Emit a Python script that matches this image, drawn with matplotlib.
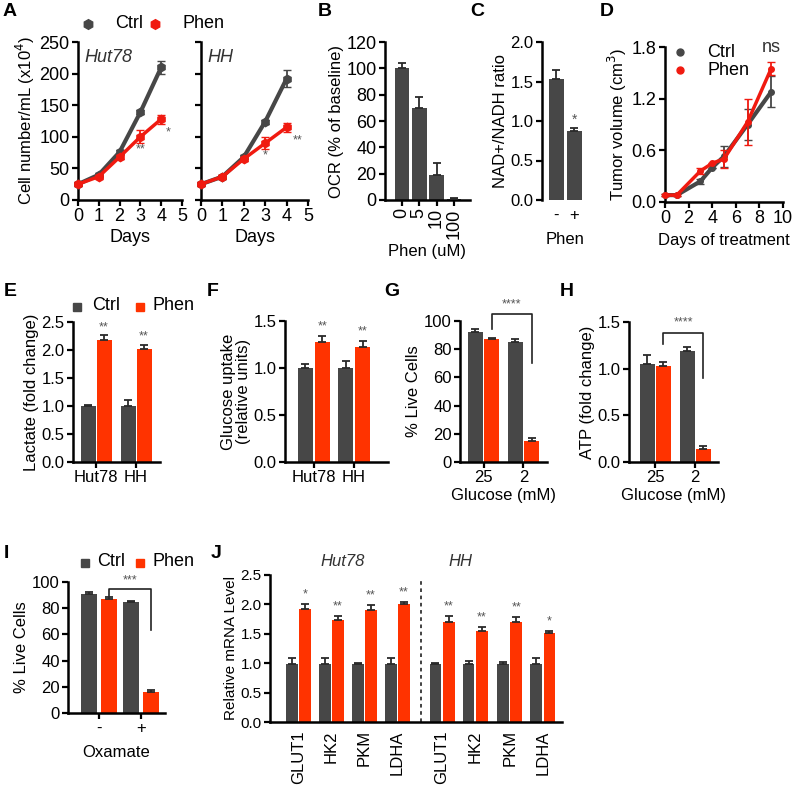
import matplotlib
matplotlib.use('Agg')
import matplotlib.pyplot as plt
import numpy as np

plt.rcParams['font.family'] = ['Liberation Sans', 'DejaVu Sans']

GRAY = '#474747'
RED = '#ff3300'
LRED = '#f01a10'
ERRC = '#2a2a2a'
STARC = '#555555'

# ---------------- data ----------------
# A
days = [0, 1, 2, 3, 4]
hut_ctrl = [25, 40, 76, 139, 210]
hut_ctrl_err = [2, 2, 3, 3, 10]
hut_phen = [25, 37, 68, 100, 128]
hut_phen_err = [2, 2, 3, 10, 7]
hh_ctrl = [25, 37, 68, 124, 192]
hh_ctrl_err = [2, 2, 3, 3, 13]
hh_phen = [25, 37, 65, 90, 115]
hh_phen_err = [2, 2, 3, 9, 7]
# B
b_labels = ['0', '5', '10', '100']
b_vals = [100, 70, 19, 1]
b_err = [4, 8, 9, 0.5]
# C
c_labels = ['-', '+']
c_vals = [1.53, 0.87]
c_err = [0.12, 0.04]
# D
d_days = [0, 1, 3, 4, 5, 7, 9]
d_ctrl = [0.08, 0.08, 0.24, 0.40, 0.53, 0.90, 1.28]
d_ctrl_err = [0.01, 0.01, 0.03, 0.0, 0.12, 0.18, 0.18]
d_phen = [0.08, 0.08, 0.36, 0.45, 0.50, 0.93, 1.55]
d_phen_err = [0.01, 0.01, 0.03, 0.0, 0.10, 0.27, 0.08]
# E
cell_lines = ['Hut78', 'HH']
e_ctrl = [1.0, 1.0]
e_ctrl_err = [0.01, 0.1]
e_phen = [2.17, 2.02]
e_phen_err = [0.09, 0.07]
# F
f_ctrl = [1.0, 1.0]
f_ctrl_err = [0.04, 0.07]
f_phen = [1.28, 1.22]
f_phen_err = [0.06, 0.07]
# G
glucose = ['25', '2']
g_ctrl = [92, 85]
g_ctrl_err = [2, 2]
g_phen = [87, 15]
g_phen_err = [0.6, 2]
# H
h_ctrl = [1.05, 1.19]
h_ctrl_err = [0.10, 0.04]
h_phen = [1.03, 0.14]
h_phen_err = [0.04, 0.03]
# I
oxamate = ['-', '+']
i_ctrl = [91, 85]
i_ctrl_err = [1, 0.5]
i_phen = [87, 16]
i_phen_err = [1.5, 1.5]
# J
genes = ['GLUT1', 'HK2', 'PKM', 'LDHA', 'GLUT1', 'HK2', 'PKM', 'LDHA']
j_ctrl = [0.98, 0.98, 0.98, 0.98, 0.98, 0.98, 0.98, 0.98]
j_ctrl_err = [0.10, 0.10, 0.03, 0.10, 0.03, 0.06, 0.04, 0.10]
j_phen = [1.93, 1.74, 1.91, 2.00, 1.70, 1.55, 1.70, 1.51]
j_phen_err = [0.07, 0.06, 0.08, 0.04, 0.10, 0.06, 0.08, 0.03]
j_stars = ['*', '**', '**', '**', '**', '**', '**', '*']

# ---------------- figure ----------------
W, H = 795, 786
fig = plt.figure(figsize=(W / 100, H / 100), dpi=100)


def add_ax(l, t, r, b):
    return fig.add_axes([l / W, 1 - b / H, (r - l) / W, (b - t) / H])


def style(ax, fs):
    for s in ['top', 'right']:
        ax.spines[s].set_visible(False)
    for s in ['left', 'bottom']:
        ax.spines[s].set_linewidth(1.8)
    ax.tick_params(width=1.6, length=4.5, labelsize=fs, pad=1.5)
    ax.patch.set_alpha(0)


def ftext(x, y, s, **kw):
    fig.text(x / W, 1 - y / H, s, **kw)


def letter(x, y, s):
    ftext(x, y, s, fontsize=14, fontweight='bold', ha='center', va='center')


def grouped(ax, pos, ctrl, cerr, phen, perr, off, width):
    pos = np.asarray(pos, dtype=float)
    ax.bar(pos - off, ctrl, width, color=GRAY, zorder=2)
    ax.bar(pos + off, phen, width, color=RED, zorder=2)
    ax.errorbar(pos - off, ctrl, yerr=[np.zeros(len(cerr)), cerr], fmt='none',
                ecolor=ERRC, elinewidth=1.3, capsize=3, capthick=1.3, zorder=3)
    ax.errorbar(pos + off, phen, yerr=[np.zeros(len(perr)), perr], fmt='none',
                ecolor=ERRC, elinewidth=1.3, capsize=3, capthick=1.3, zorder=3)


def bracket(ax, x1, x2, ytop, yl, yr, txt, ty):
    ax.plot([x1, x1, x2, x2], [yl, ytop, ytop, yr], color='#222222', lw=1.2,
            clip_on=False, zorder=4)
    ax.text((x1 + x2) / 2, ty, txt, ha='center', va='center', fontsize=9,
            color=STARC, clip_on=False)


# ---- A ----
for (l, r, c, ce, p, pe, name, stars) in [
        (78, 182, hut_ctrl, hut_ctrl_err, hut_phen, hut_phen_err, 'Hut78',
         [(3, 80, '**'), (4.35, 107, '*')]),
        (201, 308, hh_ctrl, hh_ctrl_err, hh_phen, hh_phen_err, 'HH',
         [(3, 70, '*'), (4.5, 95, '**')])]:
    ax = add_ax(l, 42, r, 200)
    style(ax, 13)
    ax.errorbar(days, c, yerr=ce, color=GRAY, lw=3, marker='h', ms=6,
                capsize=3, elinewidth=1.3, clip_on=False, zorder=3)
    ax.errorbar(days, p, yerr=pe, color=LRED, lw=2.5, marker='h', ms=6,
                capsize=3, elinewidth=1.3, clip_on=False, zorder=4)
    ax.set_xlim(0, 5)
    ax.set_ylim(0, 250)
    ax.set_xticks([0, 1, 2, 3, 4, 5])
    ax.set_yticks([0, 50, 100, 150, 200, 250])
    if l > 100:
        ax.set_yticklabels([])
    ax.set_xlabel('Days', fontsize=13, labelpad=3)
    ax.text(0.3, 225, name, fontsize=13, style='italic', color='#333333',
            va='center')
    for (sx, sy, st) in stars:
        ax.text(sx, sy, st, ha='center', va='center', fontsize=9, color=STARC)
    if l < 100:
        ax.set_ylabel('Cell number/mL (x10$^4$)', fontsize=12, labelpad=2)

# A legend
ax_leg = fig.add_axes([0, 0, 1, 1])
ax_leg.set_xlim(0, W)
ax_leg.set_ylim(H, 0)
ax_leg.axis('off')
ax_leg.plot([88], [24], marker='h', ms=7, color=GRAY, ls='none')
ax_leg.plot([155], [24], marker='h', ms=7, color=LRED, ls='none')
ftext(115, 24, 'Ctrl', fontsize=13, va='center')
ftext(182, 24, 'Phen', fontsize=13, va='center')
letter(10, 12, 'A')

# ---- B ----
ax = add_ax(385, 42, 470, 200)
style(ax, 13)
bx = np.arange(len(b_vals))
ax.bar(bx, b_vals, 0.85, color=GRAY, zorder=2)
ax.errorbar(bx, b_vals, yerr=[np.zeros(len(b_err)), b_err], fmt='none',
            ecolor=ERRC, elinewidth=1.3, capsize=3, capthick=1.3, zorder=3)
ax.set_xlim(-0.98, 3.93)
ax.set_ylim(0, 120)
ax.set_yticks(range(0, 121, 20))
ax.set_xticks(bx)
ax.set_xticklabels(b_labels, rotation=90, va='top', ha='center')
ax.set_ylabel('OCR (% of baseline)', fontsize=12, labelpad=2)
ax.set_xlabel('Phen (uM)', fontsize=12, labelpad=4)
letter(325, 12, 'B')

# ---- C ----
ax = add_ax(542, 42, 588, 200)
style(ax, 12)
cx = np.arange(len(c_vals))
ax.bar(cx, c_vals, 0.83, color=GRAY, zorder=2)
ax.errorbar(cx, c_vals, yerr=[np.zeros(len(c_err)), c_err], fmt='none',
            ecolor=ERRC, elinewidth=1.3, capsize=3, capthick=1.3, zorder=3)
ax.set_xlim(-0.78, 1.75)
ax.set_ylim(0, 2.0)
ax.set_yticks([0.0, 0.5, 1.0, 1.5, 2.0])
ax.set_yticklabels(['0.0', '0.5', '1.0', '1.5', '2.0'])
ax.set_xticks(cx)
ax.set_xticklabels(c_labels)
ax.spines['bottom'].set_visible(False)
ax.tick_params(axis='x', length=0, pad=6)
ax.set_ylabel('NAD+/NADH ratio', fontsize=12, labelpad=2)
ax.set_xlabel('Phen', fontsize=12, labelpad=6)
ax.text(1, 1.02, '*', ha='center', va='center', fontsize=10, color=STARC)
letter(477, 12, 'C')

# ---- D ----
ax = add_ax(665, 47, 783, 202)
style(ax, 13)
ax.errorbar(d_days, d_ctrl, yerr=d_ctrl_err, color=GRAY, lw=3, marker='o',
            ms=4, capsize=3, elinewidth=1.3, clip_on=False, zorder=3)
ax.errorbar(d_days, d_phen, yerr=d_phen_err, color=LRED, lw=2.5, marker='o',
            ms=4, capsize=3, elinewidth=1.3, clip_on=False, zorder=4)
ax.set_xlim(0, 10)
ax.set_ylim(0, 1.8)
ax.set_xticks([0, 2, 4, 6, 8, 10])
ax.set_yticks([0.0, 0.6, 1.2, 1.8])
ax.set_yticklabels(['0.0', '0.6', '1.2', '1.8'])
ax.set_ylabel('Tumor volume (cm$^3$)', fontsize=12, labelpad=2)
ax.set_xlabel('Days of treatment', fontsize=12, labelpad=4)
ax.plot([1.3], [1.74], marker='o', ms=5, color=GRAY, clip_on=False)
ax.plot([1.3], [1.53], marker='o', ms=5, color=LRED, clip_on=False)
ax.text(3.6, 1.74, 'Ctrl', fontsize=13, va='center')
ax.text(3.6, 1.53, 'Phen', fontsize=13, va='center')
ax.text(9.0, 1.8, 'ns', fontsize=13, ha='center', va='center', color='#333333')
letter(607, 12, 'D')

# ---- E ----
ax = add_ax(73, 322, 160, 462)
style(ax, 12)
ex = np.arange(len(cell_lines))
grouped(ax, ex, e_ctrl, e_ctrl_err, e_phen, e_phen_err, 0.2, 0.375)
ax.set_xlim(-0.575, 1.6)
ax.set_ylim(0, 2.5)
ax.set_yticks([0, 0.5, 1.0, 1.5, 2.0, 2.5])
ax.set_yticklabels(['0.0', '0.5', '1.0', '1.5', '2.0', '2.5'])
ax.set_xticks(ex)
ax.set_xticklabels(cell_lines)
ax.set_ylabel('Lactate (fold change)', fontsize=12, labelpad=2)
for i in range(2):
    ax.text(ex[i] + 0.2, e_phen[i] + e_phen_err[i] + 0.15, '**', ha='center',
            va='center', fontsize=9, color=STARC)
ax_leg.plot([77], [307], marker='s', ms=6, color=GRAY, ls='none')
ax_leg.plot([140], [307], marker='s', ms=6, color=RED, ls='none')
ftext(92, 306, 'Ctrl', fontsize=13, va='center')
ftext(153, 306, 'Phen', fontsize=13, va='center')
letter(10, 292, 'E')

# ---- F ----
ax = add_ax(285, 321, 388, 462)
style(ax, 12)
grouped(ax, ex, f_ctrl, f_ctrl_err, f_phen, f_phen_err, 0.21, 0.375)
ax.set_xlim(-0.71, 1.84)
ax.set_ylim(0, 1.5)
ax.set_yticks([0, 0.5, 1.0, 1.5])
ax.set_yticklabels(['0.0', '0.5', '1.0', '1.5'])
ax.set_xticks(ex)
ax.set_xticklabels(cell_lines)
ax.set_ylabel('Glucose uptake\n(relative units)', fontsize=12, labelpad=2,
              linespacing=1.0)
for i in range(2):
    ax.text(ex[i] + 0.21, f_phen[i] + f_phen_err[i] + 0.1, '**', ha='center',
            va='center', fontsize=9, color=STARC)
letter(213, 292, 'F')

# ---- G ----
ax = add_ax(460, 321, 547, 462)
style(ax, 12)
gx = np.arange(len(glucose))
grouped(ax, gx, g_ctrl, g_ctrl_err, g_phen, g_phen_err, 0.21, 0.375)
ax.set_xlim(-0.59, 1.59)
ax.set_ylim(0, 100)
ax.set_yticks(range(0, 101, 20))
ax.set_xticks(gx)
ax.set_xticklabels(glucose)
ax.set_ylabel('% Live Cells', fontsize=12, labelpad=2)
ax.set_xlabel('Glucose (mM)', fontsize=12, labelpad=2)
bracket(ax, 0.21, 1.21, 105, 94, 70, '****', 111.5)
letter(392, 292, 'G')

# ---- H ----
ax = add_ax(629, 322, 718, 462)
style(ax, 12)
grouped(ax, gx, h_ctrl, h_ctrl_err, h_phen, h_phen_err, 0.2, 0.375)
ax.set_xlim(-0.65, 1.575)
ax.set_ylim(0, 1.5)
ax.set_yticks([0, 0.5, 1.0, 1.5])
ax.set_yticklabels(['0.0', '0.5', '1.0', '1.5'])
ax.set_xticks(gx)
ax.set_xticklabels(glucose)
ax.set_ylabel('ATP (fold change)', fontsize=12, labelpad=2)
ax.set_xlabel('Glucose (mM)', fontsize=12, labelpad=2)
bracket(ax, 0.2, 1.2, 1.38, 1.26, 0.9, '****', 1.5)
letter(567, 292, 'H')

# ---- I ----
ax = add_ax(68, 582, 165, 713)
style(ax, 12)
ix = np.arange(len(oxamate))
grouped(ax, ix, i_ctrl, i_ctrl_err, i_phen, i_phen_err, 0.24, 0.38)
ax.set_xlim(-0.74, 1.57)
ax.set_ylim(0, 100)
ax.set_yticks(range(0, 101, 20))
ax.set_xticks(ix)
ax.set_xticklabels(oxamate)
ax.set_ylabel('% Live Cells', fontsize=12, labelpad=2)
ax.set_xlabel('Oxamate', fontsize=12, labelpad=6)
bracket(ax, 0.24, 1.24, 94.7, 89.5, 63, '***', 101.5)
ax_leg.plot([85], [563], marker='s', ms=6, color=GRAY, ls='none')
ax_leg.plot([140], [563], marker='s', ms=6, color=RED, ls='none')
ftext(97, 562, 'Ctrl', fontsize=13, va='center')
ftext(153, 562, 'Phen', fontsize=13, va='center')
letter(6, 553, 'I')

# ---- J ----
ax = add_ax(270, 575, 562, 722)
style(ax, 11)
jx = np.array([0, 1, 2, 3, 4.35, 5.35, 6.4, 7.4])
grouped(ax, jx, j_ctrl, j_ctrl_err, j_phen, j_phen_err, 0.2, 0.36)
ax.set_xlim(-0.86, 7.98)
ax.set_ylim(0, 2.5)
ax.set_yticks([0, 0.5, 1.0, 1.5, 2.0, 2.5])
ax.set_yticklabels(['0.0', '0.5', '1.0', '1.5', '2.0', '2.5'])
ax.set_xticks(jx)
ax.set_xticklabels(genes, rotation=90, fontsize=12)
ax.tick_params(axis='x', length=0, pad=6)
ax.set_ylabel('Relative mRNA Level', fontsize=11, labelpad=2)
ax.axvline(3.71, color='#333333', lw=1.3, ls=(0, (2, 2)), ymax=0.97)
for i in range(8):
    ax.text(jx[i] + 0.2, j_phen[i] + j_phen_err[i] + 0.17, j_stars[i],
            ha='center', va='center', fontsize=9, color=STARC)
ftext(343, 562, 'Hut78', fontsize=12, style='italic', ha='center',
      va='center', color='#333333')
ftext(460, 562, 'HH', fontsize=12, style='italic', ha='center', va='center',
      color='#333333')
letter(216, 553, 'J')

fig.savefig('out.png', dpi=100)
